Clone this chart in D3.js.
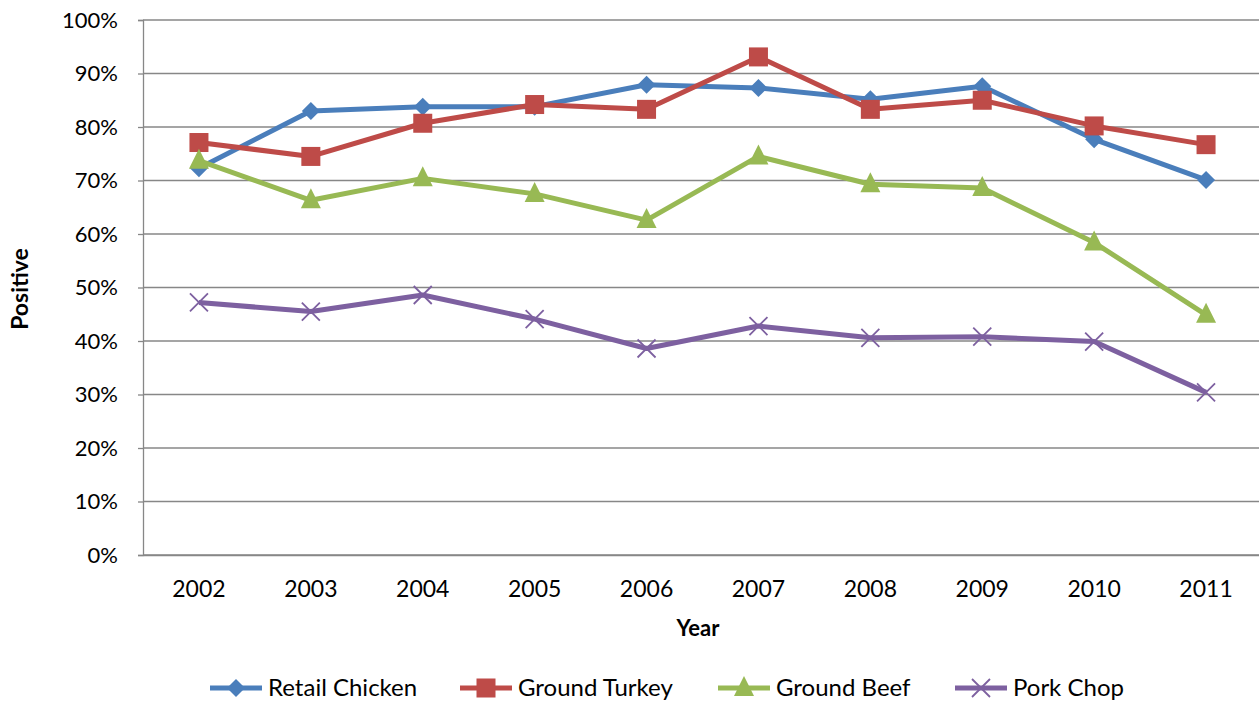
<!DOCTYPE html>
<html><head><meta charset="utf-8">
<script src="https://cdn.jsdelivr.net/npm/d3@7"></script>
<style>body{margin:0;background:#fff}svg{display:block}</style>
</head><body>
<svg id="c" width="1259" height="701"></svg>
<script>
const years = ["2002","2003","2004","2005","2006","2007","2008","2009","2010","2011"];
const retailChicken = [0.723,0.830,0.838,0.838,0.879,0.873,0.852,0.876,0.777,0.701];
const groundTurkey  = [0.771,0.745,0.807,0.842,0.833,0.931,0.833,0.850,0.802,0.767];
const groundBeef    = [0.737,0.663,0.704,0.675,0.626,0.745,0.693,0.686,0.584,0.449];
const porkChop      = [0.472,0.455,0.486,0.441,0.386,0.428,0.406,0.408,0.399,0.304];
const yTicks = [0,0.1,0.2,0.3,0.4,0.5,0.6,0.7,0.8,0.9,1.0];
const seriesNames = ["Retail Chicken","Ground Turkey","Ground Beef","Pork Chop"];

const series = [
  {name: seriesNames[0], values: retailChicken, color: "#4A7EBB", marker: "diamond"},
  {name: seriesNames[1], values: groundTurkey,  color: "#BE4B48", marker: "square"},
  {name: seriesNames[2], values: groundBeef,    color: "#98B954", marker: "triangle"},
  {name: seriesNames[3], values: porkChop,      color: "#7D60A0", marker: "x"}
];

const svg = d3.select("#c");
const font = "Lato, 'Open Sans', sans-serif";
const L = 143, R = 1262, T = 20, B = 555;

const x = d3.scaleBand().domain(years).range([L, R]).padding(0);
const y = d3.scaleLinear().domain([0, 1]).range([B, T]);

// gridlines
svg.append("g").selectAll("line").data(yTicks).join("line")
  .attr("x1", L).attr("x2", R)
  .attr("y1", d => y(d)).attr("y2", d => y(d))
  .attr("stroke", "#878787").attr("stroke-width", 1.3);

// y axis
const yAxis = d3.axisLeft(y).tickValues(yTicks).tickSize(5).tickFormat(d3.format(".0%"));
const gy = svg.append("g").attr("transform", `translate(${L},0)`).call(yAxis);
gy.select(".domain").attr("stroke", "#878787").attr("stroke-width", 1.3);
gy.selectAll(".tick line").attr("stroke", "#878787").attr("stroke-width", 1.3);
gy.selectAll(".tick text").attr("x", -25).attr("font-family", font).attr("font-size", 22).attr("fill", "#000");

// x axis
const xAxis = d3.axisBottom(x).tickSize(0).tickPadding(26);
const gx = svg.append("g").attr("transform", `translate(0,${B})`).call(xAxis);
gx.select(".domain").attr("stroke", "#878787").attr("stroke-width", 1.3);
gx.selectAll(".tick text").attr("font-family", font).attr("font-size", 23).attr("fill", "#000");

// axis titles
svg.append("text").attr("x", 698).attr("y", 636).attr("text-anchor", "middle")
  .attr("font-family", font).attr("font-size", 22).attr("font-weight", "bold").text("Year");
svg.append("text").attr("transform", "translate(28,289) rotate(-90)").attr("text-anchor", "middle")
  .attr("font-family", font).attr("font-size", 23).attr("font-weight", "bold").text("Positive");

function drawMarker(g, type, color, cx, cy, scale) {
  const s = scale || 1;
  if (type === "diamond") {
    const r = 9 * s;
    g.append("path").attr("d", `M${cx},${cy-r}L${cx+r},${cy}L${cx},${cy+r}L${cx-r},${cy}Z`).attr("fill", color);
  } else if (type === "square") {
    const h = 9.5 * s;
    g.append("rect").attr("x", cx-h).attr("y", cy-h).attr("width", 2*h).attr("height", 2*h).attr("fill", color);
  } else if (type === "triangle") {
    const w = 10 * s, hTop = 12 * s, hBot = 8 * s;
    g.append("path").attr("d", `M${cx},${cy-hTop}L${cx+w},${cy+hBot}L${cx-w},${cy+hBot}Z`).attr("fill", color);
  } else if (type === "x") {
    const r = 9 * s;
    g.append("path").attr("d", `M${cx-r},${cy-r}L${cx+r},${cy+r}M${cx-r},${cy+r}L${cx+r},${cy-r}`)
      .attr("stroke", color).attr("stroke-width", 1.8).attr("fill", "none");
  }
}

const line = d3.line().x((d, i) => x(years[i]) + x.bandwidth()/2).y(d => y(d));
series.forEach(s => {
  const g = svg.append("g");
  g.append("path").datum(s.values).attr("d", line).attr("fill", "none")
    .attr("stroke", s.color).attr("stroke-width", 5).attr("stroke-linejoin", "round");
  s.values.forEach((v, i) => drawMarker(g, s.marker, s.color, x(years[i]) + x.bandwidth()/2, y(v)));
});

// legend
const legendX = [210, 460, 718, 955];
const ly = 688;
series.forEach((s, i) => {
  const g = svg.append("g");
  const x0 = legendX[i];
  g.append("line").attr("x1", x0).attr("x2", x0 + 52).attr("y1", ly).attr("y2", ly)
    .attr("stroke", s.color).attr("stroke-width", 5);
  drawMarker(g, s.marker, s.color, x0 + 26, ly, 1);
  g.append("text").attr("x", x0 + 58).attr("y", ly + 8).attr("font-family", font)
    .attr("font-size", 24).attr("fill", "#000").text(s.name);
});
</script>
</body></html>
